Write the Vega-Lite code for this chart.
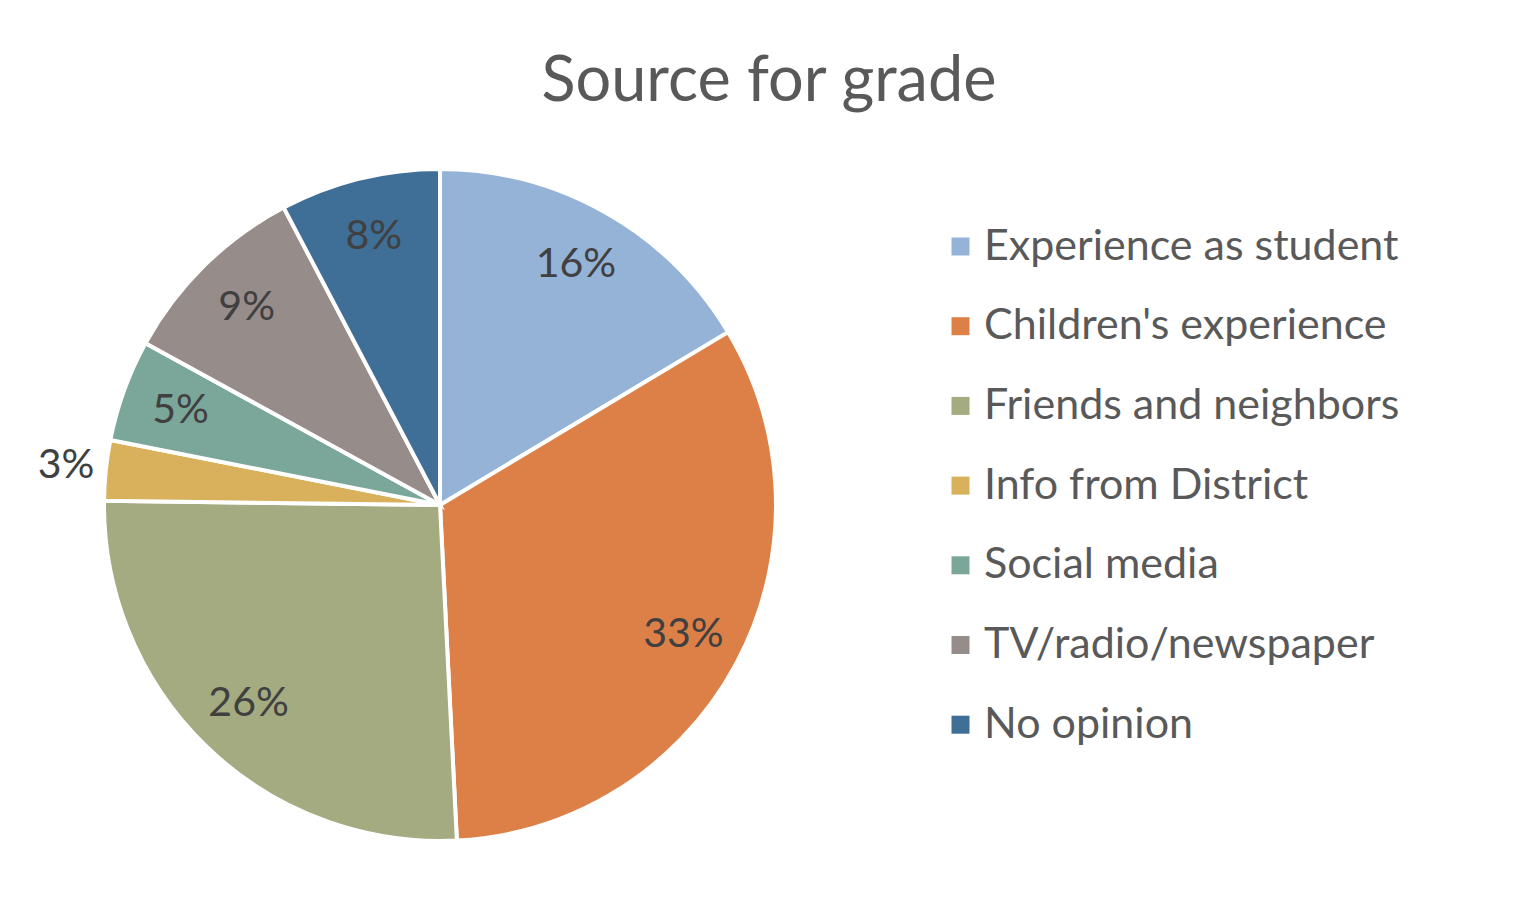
{
  "$schema": "https://vega.github.io/schema/vega-lite/v6.json",
  "width": 672,
  "height": 672,
  "autosize": {"type": "none"},
  "padding": {"left": 104, "top": 169, "right": 761, "bottom": 75},
  "background": "white",
  "title": {
    "text": "Source for grade",
    "font": "Lato",
    "fontSize": 63,
    "fontWeight": "normal",
    "color": "#595959",
    "anchor": "middle",
    "dx": 329,
    "offset": 5
  },
  "data": {
    "values": [
      {"source": "Experience as student", "share": 0.164, "i": 1},
      {"source": "Children's experience", "share": 0.328, "i": 2},
      {"source": "Friends and neighbors", "share": 0.26, "i": 3},
      {"source": "Info from District", "share": 0.029, "i": 4},
      {"source": "Social media", "share": 0.049, "i": 5},
      {"source": "TV/radio/newspaper", "share": 0.093, "i": 6},
      {"source": "No opinion", "share": 0.077, "i": 7}
    ]
  },
  "encoding": {
    "theta": {"field": "share", "type": "quantitative", "stack": true},
    "order": {"field": "i", "type": "quantitative"}
  },
  "layer": [
    {
      "mark": {"type": "arc", "stroke": "white", "strokeWidth": 4},
      "encoding": {
        "color": {
          "field": "source",
          "type": "nominal",
          "sort": null,
          "scale": {
            "domain": ["Experience as student", "Children's experience", "Friends and neighbors", "Info from District", "Social media", "TV/radio/newspaper", "No opinion"],
            "range": ["#95B3D6", "#DD8047", "#A4AB80", "#D9B15D", "#7BA79A", "#968C8A", "#3F6E97"]
          },
          "legend": {
            "orient": "none",
            "legendX": 835,
            "legendY": 56,
            "title": null,
            "symbolType": "square",
            "symbolSize": 324,
            "symbolStrokeWidth": 0,
            "labelFont": "Lato",
            "labelFontSize": 43,
            "labelColor": "#595959",
            "labelOffset": 2,
            "labelLimit": 0,
            "rowPadding": 35.7,
            "padding": 0
          }
        }
      }
    },
    {
      "mark": {"type": "text", "radius": 276, "font": "Lato", "fontSize": 41, "color": "#404040"},
      "encoding": {
        "detail": {"field": "source", "type": "nominal"},
        "text": {"condition": {"test": "datum.share >= 0.04", "field": "share", "type": "quantitative", "format": ".0%"}, "value": ""}
      }
    },
    {
      "mark": {"type": "text", "radius": 376, "font": "Lato", "fontSize": 41, "color": "#404040"},
      "encoding": {
        "detail": {"field": "source", "type": "nominal"},
        "text": {"condition": {"test": "datum.share < 0.04", "field": "share", "type": "quantitative", "format": ".0%"}, "value": ""}
      }
    }
  ],
  "config": {"view": {"stroke": null}}
}
